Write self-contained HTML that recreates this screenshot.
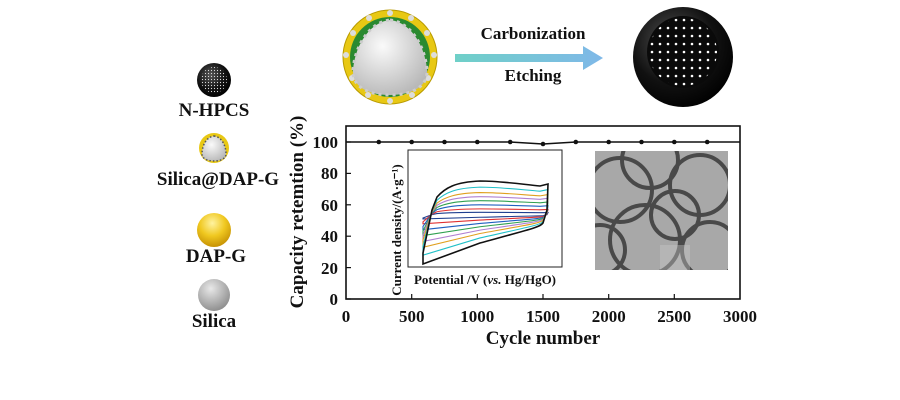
<!DOCTYPE html>
<html><head><meta charset="utf-8"><style>
body{margin:0;background:#fff}
svg{display:block}
text{font-family:"Liberation Serif",serif;font-weight:bold;fill:#111}
</style></head><body>
<svg width="900" height="400" viewBox="0 0 900 400" xmlns="http://www.w3.org/2000/svg">
<defs>
<radialGradient id="blk" cx="0.4" cy="0.35" r="0.7"><stop offset="0" stop-color="#555"/><stop offset="0.6" stop-color="#111"/><stop offset="1" stop-color="#000"/></radialGradient>
<radialGradient id="yel" cx="0.45" cy="0.3" r="0.75"><stop offset="0" stop-color="#fff3a0"/><stop offset="0.5" stop-color="#f0c820"/><stop offset="1" stop-color="#c08a00"/></radialGradient>
<radialGradient id="gry" cx="0.4" cy="0.3" r="0.75"><stop offset="0" stop-color="#e8e8e8"/><stop offset="1" stop-color="#8a8a8a"/></radialGradient>
<radialGradient id="wht" cx="0.4" cy="0.35" r="0.7"><stop offset="0" stop-color="#fafafa"/><stop offset="1" stop-color="#b8b8b8"/></radialGradient>
<linearGradient id="arr" x1="0" x2="1"><stop offset="0" stop-color="#6fd0c8"/><stop offset="1" stop-color="#7fb8e8"/></linearGradient>
<pattern id="dots" width="8" height="8" patternUnits="userSpaceOnUse"><circle cx="4" cy="4" r="1.3" fill="#fff"/></pattern>
<pattern id="dots2" width="3" height="3" patternUnits="userSpaceOnUse"><circle cx="1.5" cy="1.5" r="0.6" fill="#ddd"/></pattern>
<clipPath id="tem"><rect x="595" y="151" width="133" height="119"/></clipPath>
</defs>

<circle cx="390" cy="57" r="47" fill="#e8c814" stroke="#b89a00" stroke-width="1"/>
<circle cx="390" cy="57" r="40" fill="#2a8a30"/>
<g fill="#ddd">
<circle cx="390" cy="13" r="3"/><circle cx="411" cy="18" r="3"/><circle cx="427" cy="33" r="3"/><circle cx="434" cy="55" r="3"/><circle cx="428" cy="78" r="3"/><circle cx="412" cy="95" r="3"/><circle cx="390" cy="101" r="3"/><circle cx="368" cy="95" r="3"/><circle cx="352" cy="78" r="3"/><circle cx="346" cy="55" r="3"/><circle cx="353" cy="33" r="3"/><circle cx="369" cy="18" r="3"/>
</g>
<path d="M390 20 C410 22 425 45 427 70 C428 88 410 95 390 95 C370 95 352 88 353 70 C355 45 370 22 390 20Z" fill="url(#wht)" stroke="#ccc" stroke-width="3" stroke-dasharray="3 4"/>
<path d="M455 54 H583 V46 L603 58 L583 70 V62 H455 Z" fill="url(#arr)"/>
<text x="533" y="39" font-size="17" text-anchor="middle">Carbonization</text>
<text x="533" y="81" font-size="17" text-anchor="middle">Etching</text>
<circle cx="683" cy="57" r="50" fill="url(#blk)"/>
<circle cx="683" cy="52" r="36" fill="#0a0a0a"/>
<circle cx="683" cy="52" r="34" fill="url(#dots)"/>

<circle cx="214" cy="80" r="17" fill="url(#blk)"/>
<circle cx="214" cy="80" r="13" fill="url(#dots2)"/>
<text x="214" y="116" font-size="19" text-anchor="middle">N-HPCS</text>
<circle cx="214" cy="148" r="15" fill="#e8c814"/>
<path d="M214 136 C222 137 226 146 226 154 C226 159 220 161 214 161 C208 161 202 159 202 154 C202 146 206 137 214 136Z" fill="url(#wht)" stroke="#555" stroke-width="1.5" stroke-dasharray="1.5 2"/>
<text x="218" y="185" font-size="19" text-anchor="middle">Silica@DAP-G</text>
<circle cx="214" cy="230" r="17" fill="url(#yel)"/>
<text x="216" y="262" font-size="19" text-anchor="middle">DAP-G</text>
<circle cx="214" cy="295" r="16" fill="url(#gry)"/>
<text x="214" y="327" font-size="19" text-anchor="middle">Silica</text>

<rect x="346" y="126" width="394" height="173" fill="none" stroke="#111" stroke-width="1.6"/>
<g stroke="#111" stroke-width="1.2">
<line x1="346" y1="299" x2="351" y2="299"/><line x1="346" y1="267.6" x2="351" y2="267.6"/><line x1="346" y1="236.2" x2="351" y2="236.2"/><line x1="346" y1="204.8" x2="351" y2="204.8"/><line x1="346" y1="173.4" x2="351" y2="173.4"/><line x1="346" y1="142" x2="351" y2="142"/>
<line x1="411.7" y1="299" x2="411.7" y2="294"/><line x1="477.3" y1="299" x2="477.3" y2="294"/><line x1="543" y1="299" x2="543" y2="294"/><line x1="608.7" y1="299" x2="608.7" y2="294"/><line x1="674.3" y1="299" x2="674.3" y2="294"/>
</g>
<g font-size="17" text-anchor="end">
<text x="338" y="305">0</text><text x="338" y="274">20</text><text x="338" y="242">40</text><text x="338" y="211">60</text><text x="338" y="179">80</text><text x="338" y="148">100</text>
</g>
<g font-size="17" text-anchor="middle">
<text x="346" y="322">0</text><text x="411.7" y="322">500</text><text x="477.3" y="322">1000</text><text x="543" y="322">1500</text><text x="608.7" y="322">2000</text><text x="674.3" y="322">2500</text><text x="740" y="322">3000</text>
</g>
<text x="543" y="344" font-size="19" text-anchor="middle">Cycle number</text>
<text transform="translate(303,212) rotate(-90)" font-size="19" text-anchor="middle">Capacity retemtion (%)</text>
<polyline points="346,142 510,142 543,144 576,142 740,142" fill="none" stroke="#111" stroke-width="1.5"/>
<g fill="#111">
<circle cx="378.8" cy="142" r="2.3"/><circle cx="411.7" cy="142" r="2.3"/><circle cx="444.5" cy="142" r="2.3"/><circle cx="477.3" cy="142" r="2.3"/><circle cx="510.2" cy="142" r="2.3"/><circle cx="543" cy="144" r="2.3"/><circle cx="575.8" cy="142" r="2.3"/><circle cx="608.7" cy="142" r="2.3"/><circle cx="641.5" cy="142" r="2.3"/><circle cx="674.3" cy="142" r="2.3"/><circle cx="707.2" cy="142" r="2.3"/>
</g>

<rect x="408" y="150" width="154" height="117" fill="#fff" stroke="#222" stroke-width="1"/>
<g fill="none" stroke-width="1.1">
<path id="cv" vector-effect="non-scaling-stroke" d="M423 264 L423 253 L432 210 L437 197 C445 188 455 182 480 181 C500 181 520 184 540 186 L548 184 L547 210 L543 223 C540 227 535 228 480 243 Z"/>
<use href="#cv" stroke="#1f3f8f" transform="translate(0,215) scale(1,0.08) translate(0,-215)"/>
<use href="#cv" stroke="#e03030" transform="translate(0,215) scale(1,0.18) translate(0,-215)"/>
<use href="#cv" stroke="#2060c0" transform="translate(0,215) scale(1,0.3) translate(0,-215)"/>
<use href="#cv" stroke="#30a050" transform="translate(0,215) scale(1,0.42) translate(0,-215)"/>
<use href="#cv" stroke="#b080d0" transform="translate(0,215) scale(1,0.54) translate(0,-215)"/>
<use href="#cv" stroke="#e0a020" transform="translate(0,215) scale(1,0.66) translate(0,-215)"/>
<use href="#cv" stroke="#20c0c8" transform="translate(0,215) scale(1,0.82) translate(0,-215)"/>
<use href="#cv" stroke="#111" stroke-width="1.6"/>
</g>
<text transform="translate(401,230) rotate(-90)" font-size="13" text-anchor="middle">Current density/(A·g⁻¹)</text>
<text x="485" y="284" font-size="13" text-anchor="middle">Potential /V (<tspan font-style="italic">vs.</tspan> Hg/HgO)</text>

<rect x="595" y="151" width="133" height="119" fill="#a8a8a8"/>
<g clip-path="url(#tem)" fill="none" stroke="#2a2a2a" stroke-width="4" opacity="0.75">
<circle cx="620" cy="190" r="32"/><circle cx="650" cy="160" r="28"/><circle cx="645" cy="240" r="35"/><circle cx="700" cy="185" r="30"/><circle cx="710" cy="250" r="28"/><circle cx="600" cy="250" r="25"/><circle cx="675" cy="215" r="24"/>
</g>
<rect x="660" y="245" width="30" height="25" fill="#c8c8c8" opacity="0.4"/>
</svg>
</body></html>
